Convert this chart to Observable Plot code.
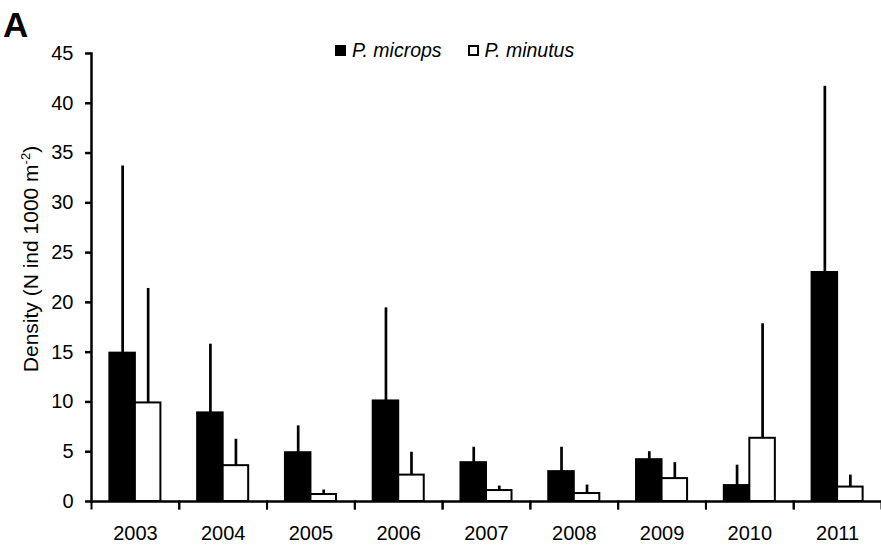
<!DOCTYPE html>
<html>
<head>
<meta charset="utf-8">
<script src="https://cdn.jsdelivr.net/npm/d3@7"></script>
<script src="https://cdn.jsdelivr.net/npm/@observablehq/plot@0.6"></script>
<style>
  body { margin: 0; background: #fff; font-family: "Liberation Sans", Arial, sans-serif; color: #000; }
  #wrap { position: relative; width: 881px; height: 546px; }
  #panel { position: absolute; left: 3px; top: 7px; font-weight: bold; font-size: 35px; line-height: 1; }
  #legend { position: absolute; top: 41px; left: 335px; font-size: 19.5px; font-style: italic; display: flex; align-items: center; line-height: 1; }
  #legend .item { display: flex; align-items: center; margin-right: 26px; }
  #legend .sw { display: inline-block; width: 7px; height: 7px; border: 2px solid #000; margin-right: 6px; }
  #ylab { position: absolute; left: 30px; top: 259px; transform: translate(-50%, -50%) rotate(-90deg); white-space: nowrap; font-size: 21px; line-height: 1; }
  #ylab sup { font-size: 13px; vertical-align: 8px; }
  #chart { position: absolute; left: 0; top: 0; }
</style>
</head>
<body>
<div id="wrap">
  <div id="chart"></div>
  <div id="panel">A</div>
  <div id="legend"></div>
  <div id="ylab">Density (N ind 1000 m<sup>-2</sup>)</div>
</div>
<script>
// ---- data ----
const years = ["2003", "2004", "2005", "2006", "2007", "2008", "2009", "2010", "2011"];
const species = ["P. microps", "P. minutus"];
const micropsMean = [14.9, 8.9, 4.9, 10.1, 3.9, 3.0, 4.2, 1.6, 23.0];
const micropsErr  = [18.8, 6.9, 2.7, 9.35, 1.55, 2.45, 0.8, 2.05, 18.7];
const minutusMean = [9.9, 3.6, 0.7, 2.65, 1.1, 0.8, 2.3, 6.35, 1.45];
const minutusErr  = [11.5, 2.65, 0.45, 2.3, 0.45, 0.85, 1.6, 11.5, 1.2];
const yTicks = [0, 5, 10, 15, 20, 25, 30, 35, 40, 45];
const seriesColors = ["#000000", "#ffffff"];

const data = years.flatMap((year, i) => [
  {year, species: species[0], mean: micropsMean[i], err: micropsErr[i]},
  {year, species: species[1], mean: minutusMean[i], err: minutusErr[i]}
]);

// legend
const legend = document.getElementById("legend");
species.forEach((s, i) => {
  const item = document.createElement("span");
  item.className = "item";
  const sw = document.createElement("span");
  sw.className = "sw";
  sw.style.background = seriesColors[i];
  item.appendChild(sw);
  item.appendChild(document.createTextNode(s));
  legend.appendChild(item);
});

const chart = Plot.plot({
  width: 881,
  height: 546,
  marginTop: 53,
  marginBottom: 45,
  marginLeft: 91,
  marginRight: 0,
  style: {fontFamily: "Liberation Sans, Arial, sans-serif", fontSize: "20px", color: "#000", background: "transparent"},
  fx: {domain: years, padding: 0, round: false, label: null, axis: null},
  x: {domain: species, paddingInner: 0, paddingOuter: 0.72, round: false, axis: null},
  y: {domain: [0, 45], label: null, axis: null},
  color: {domain: species, range: seriesColors},
  marks: [
    Plot.ruleX(data, {fx: "year", x: "species", y1: "mean", y2: d => d.mean + d.err, stroke: "#000", strokeWidth: 2.7}),
    Plot.barY(data, {fx: "year", x: "species", y: "mean", fill: "species", stroke: "#000", strokeWidth: 2}),
    Plot.ruleY([0], {stroke: "#000", strokeWidth: 2.5}),
    Plot.frame({anchor: "left", insetTop: 448, insetBottom: -7, stroke: "#000", strokeWidth: 2}),
    Plot.frame({anchor: "right", insetTop: 448, insetBottom: -7, stroke: "#000", strokeWidth: 2}),
    Plot.frame({anchor: "left", facetAnchor: "left", stroke: "#000", strokeWidth: 2.5}),
    Plot.axisY({ticks: yTicks, tickSize: 6, tickPadding: 12, label: null, stroke: "#000", strokeWidth: 2.5, fontSize: 20}),
    Plot.axisFx({anchor: "bottom", tickSize: 0, tickPadding: 24, label: null, fontSize: 20})
  ]
});
document.getElementById("chart").appendChild(chart);
</script>
</body>
</html>
